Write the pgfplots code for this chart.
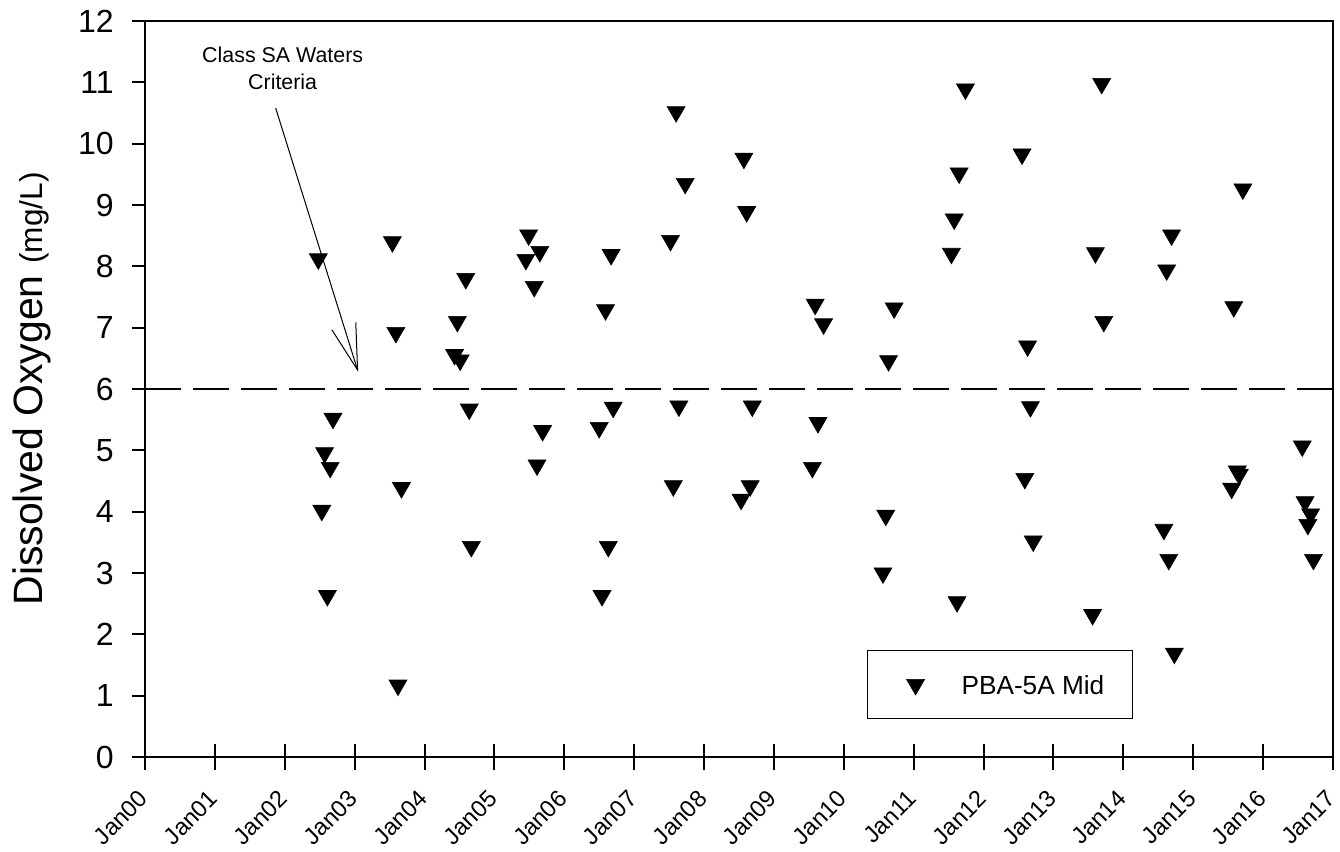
\documentclass[border=0pt]{standalone}
\usepackage{fontspec}
\setmainfont{Liberation Sans}
\usepackage{pgfplots}
\usepackage{pgfplotstable}
\pgfplotsset{compat=1.18}
\usetikzlibrary{arrows.meta}

% Dissolved oxygen, PBA-5A mid depth; x = years after Jan 2000
\pgfplotstableread{
x y
2.48 8.12
2.53 4.02
2.57 4.96
2.61 2.63
2.65 4.72
2.69 5.52
3.54 8.40
3.59 6.92
3.62 1.17
3.67 4.39
4.43 6.56
4.47 7.10
4.51 6.47
4.59 7.80
4.64 5.67
4.67 3.43
5.45 8.11
5.49 8.51
5.57 7.67
5.61 4.76
5.65 8.24
5.69 5.32
6.50 5.37
6.54 2.63
6.59 7.29
6.63 3.43
6.67 8.19
6.70 5.70
7.52 8.42
7.56 4.42
7.60 10.52
7.64 5.72
7.73 9.35
8.53 4.20
8.57 9.76
8.61 8.89
8.66 4.42
8.69 5.72
9.55 4.72
9.59 7.38
9.63 5.45
9.71 7.06
10.56 3.00
10.60 3.94
10.64 6.46
10.72 7.32
11.54 8.21
11.58 8.77
11.62 2.53
11.65 9.52
11.74 10.89
12.55 9.83
12.59 4.54
12.63 6.70
12.67 5.71
12.71 3.52
13.56 2.32
13.60 8.22
13.69 10.98
13.72 7.10
14.58 3.71
14.62 7.94
14.65 3.22
14.69 8.51
14.73 1.69
15.55 4.38
15.58 7.34
15.63 4.66
15.66 4.61
15.71 9.26
16.56 5.07
16.60 4.16
16.64 3.79
16.68 3.96
16.72 3.22
}\dodata

\begin{document}
\begin{tikzpicture}
\begin{axis}[
  scale only axis,
  width=594bp, height=368bp,
  xmin=0, xmax=17, ymin=0, ymax=12,
  axis line style={line width=1bp},
  xtick={0,...,17},
  xticklabels={Jan00,Jan01,Jan02,Jan03,Jan04,Jan05,Jan06,Jan07,Jan08,Jan09,Jan10,Jan11,Jan12,Jan13,Jan14,Jan15,Jan16,Jan17},
  ytick={0,...,12},
  xtick pos=bottom, ytick pos=left,
  tick align=outside,
  major tick length=6.5bp,
  major tick style={line width=1bp, black},
  extra x ticks={0,...,17},
  extra x tick labels={},
  extra x tick style={tick align=inside, xtick pos=bottom},
  /pgf/number format/assume math mode=true,
  xticklabel style={xshift=-3.7bp, yshift=-9.2bp, rotate=45, anchor=north east, inner sep=0pt,
    font=\fontsize{11.8bp}{14bp}\selectfont},
  yticklabel style={anchor=east, inner sep=0pt, xshift=-9bp,
    font=\fontsize{16bp}{19bp}\selectfont},
  ylabel={Dissolved Oxygen {\fontsize{15.8bp}{19bp}\selectfont(mg/L)}},
  every axis y label/.style={at={(axis description cs:-0.0859,0.5)}, rotate=90, anchor=base,
    font=\fontsize{20.5bp}{24bp}\selectfont},
  legend style={at={(0.8318,0.1454)}, anchor=north east, draw=black, line width=0.6bp,
    fill=white, inner xsep=0pt, inner ysep=0pt,
    nodes={inner sep=0pt, text depth=0pt, draw=none, fill=none},
    /tikz/column sep=0pt, font=\fontsize{13.1bp}{15bp}\selectfont},
]
% criterion for Class SA waters
\addplot[black, line width=1bp, dash pattern=on 18bp off 6bp, forget plot]
  coordinates {(0,6) (17,6)};

\addplot[only marks, mark=triangle*, mark size=5.2bp,
  mark options={rotate=180, fill=black, draw=black, line width=0.3bp, solid},
  legend image code/.code={
    \path[draw=none, fill=none] (0bp,-17bp) rectangle (47bp,17bp);
    \draw[##1] plot coordinates {(24bp,0bp)};
  }] table[x=x, y=y] {\dodata};
\addlegendentry{\makebox[85.5bp][l]{PBA-5A Mid}}

\node[align=center, font=\fontsize{10.7bp}{13.5bp}\selectfont]
  at (axis cs:1.97,11.23) {Class SA Waters\\Criteria};
\draw[line width=0.5bp, -{Straight Barb[length=23bp,width=12.5bp]}]
  (axis cs:1.87,10.58) -- (axis cs:3.05,6.28);
\end{axis}
\pgfresetboundingbox
\path[use as bounding box]
  ([xshift=-72.5bp, yshift=-47.5bp]current axis.south west)
  rectangle ([xshift=3.5bp, yshift=10.5bp]current axis.north east);
\end{tikzpicture}
\end{document}
